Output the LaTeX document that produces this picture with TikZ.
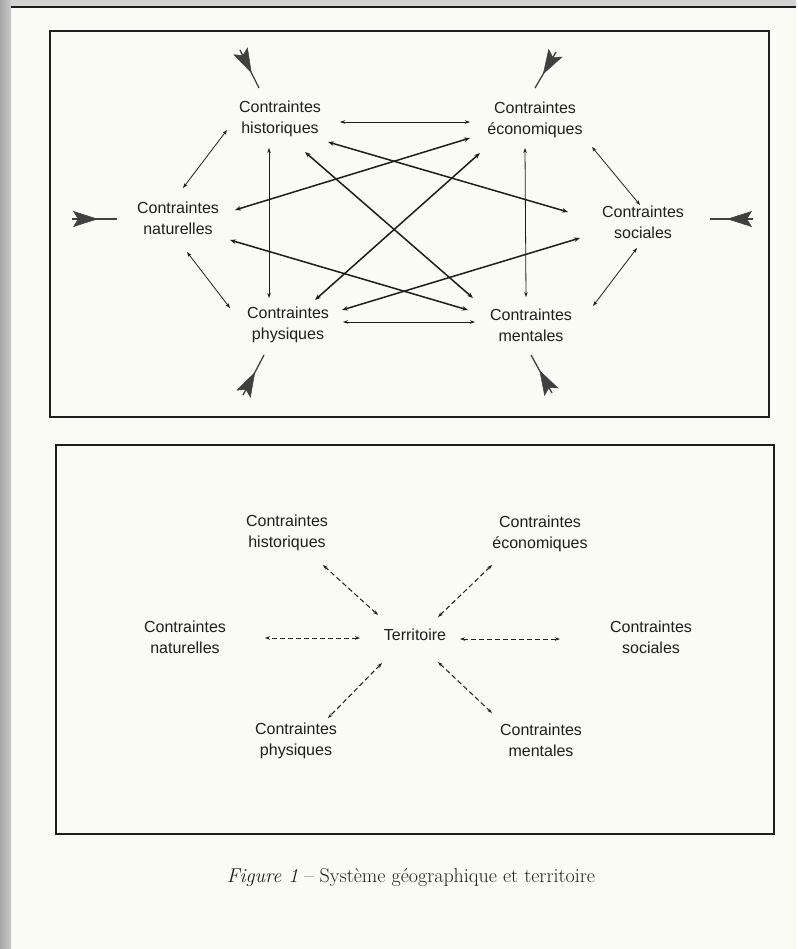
\documentclass[tikz,border=0pt]{standalone}
\usepackage{fontspec}
\setsansfont{Liberation Sans}
\usetikzlibrary{arrows.meta,calc}
\definecolor{ink}{HTML}{1E1E1E}
\definecolor{paper}{HTML}{FBFBF5}
\definecolor{scanedge}{HTML}{A8A8A8}
\begin{document}
\begin{tikzpicture}[x=1pt,y=-1pt,
  lbl/.style={font=\sffamily\fontsize{16}{21}\selectfont, align=center, text=ink, inner sep=0pt},
  frame/.style={draw=ink, line width=1.8pt},
  link/.style={draw=ink, line width=0.8pt, {Stealth[length=5pt,width=3.5pt]}-{Stealth[length=5pt,width=3.5pt]}},
  xlink/.style={draw=ink, line width=1.5pt, {Stealth[length=6pt,width=4.5pt]}-{Stealth[length=6pt,width=4.5pt]}},
  dlink/.style={draw=ink, line width=1pt, dash pattern=on 5pt off 3pt, {Stealth[length=5pt,width=3.5pt]}-{Stealth[length=5pt,width=3.5pt]}},
  feed/.style={draw=ink!85, line width=1.3pt},
  feedhead/.style={draw=ink!85, line width=0.5pt, -{Stealth[length=25pt,width=16pt,inset=5pt]}}
]
% paper and scan edges
\fill[paper] (0,0) rectangle (796,949);
\shade[left color=scanedge, right color=scanedge!60] (0,0) rectangle (11,949);
\fill[scanedge!50] (11,0) rectangle (796,6);
\draw[ink, line width=2pt] (11,7.5) -- (796,7.5);
\useasboundingbox (0,0) rectangle (796,949);

% frames
\draw[frame] (50,31) rectangle (769,417);
\draw[frame] (56,445) rectangle (774,834);

% ---------- upper system ----------
\node[lbl] (H) at (280,119) {Contraintes\\historiques};
\node[lbl] (E) at (535,120) {Contraintes\\économiques};
\node[lbl] (N) at (178,218) {Contraintes\\naturelles};
\node[lbl] (S) at (643,222) {Contraintes\\sociales};
\node[lbl] (P) at (288,325) {Contraintes\\physiques};
\node[lbl] (M) at (531,325) {Contraintes\\mentales};

% outer ring and verticals
\draw[link] ([shift={(60,3)}]H.center) -- ([shift={(-65,2)}]E.center);
\draw[link] ([shift={(-53,11)}]H.center) -- ([shift={(5,-30)}]N.center);
\draw[link] ([shift={(-11,29)}]H.center) -- ([shift={(-19,-27)}]P.center);
\draw[link] ([shift={(-10,28)}]E.center) -- ([shift={(-5,-28)}]M.center);
\draw[link] ([shift={(57,27)}]E.center) -- ([shift={(-3,-17)}]S.center);
\draw[link] ([shift={(-6,26)}]S.center) -- ([shift={(62,-19)}]M.center);
\draw[link] ([shift={(-56,-3)}]M.center) -- ([shift={(55,-3)}]P.center);
\draw[link] ([shift={(-58,-17)}]P.center) -- ([shift={(9,34)}]N.center);

% crossing links
\draw[xlink] ([shift={(57,-8)}]N.center) -- ([shift={(-65,18)}]E.center);
\draw[xlink] ([shift={(48,23)}]H.center) -- ([shift={(-75,-10)}]S.center);
\draw[xlink] ([shift={(25,33)}]H.center) -- ([shift={(-58,-27)}]M.center);
\draw[xlink] ([shift={(52,22)}]N.center) -- ([shift={(-63,-15)}]M.center);
\draw[xlink] ([shift={(-55,33)}]E.center) -- ([shift={(27,-25)}]P.center);
\draw[xlink] ([shift={(-63,16)}]S.center) -- ([shift={(54,-15)}]P.center);

% incoming pressures
\coordinate (inN) at (72,219);
\coordinate (inH) at (240,50);
\coordinate (inE) at (556,52);
\coordinate (inS) at (753,219);
\coordinate (inP) at (243,395);
\coordinate (inM) at (552,393);
\coordinate (toN) at ([shift={(-61,1)}]N.center);
\coordinate (toH) at ([shift={(-21,-31)}]H.center);
\coordinate (toE) at ([shift={(0,-32)}]E.center);
\coordinate (toS) at ([shift={(67,-3)}]S.center);
\coordinate (toP) at ([shift={(-24,30)}]P.center);
\coordinate (toM) at ([shift={(0,30)}]M.center);
\foreach \k in {N,H,E,S,P,M}{
  \draw[feed] (in\k) -- (to\k);
  \draw[feedhead] (in\k) -- ($(in\k)!26pt!(to\k)$);
}

% ---------- territory ----------
\node[lbl] (h) at (287,533) {Contraintes\\historiques};
\node[lbl] (e) at (540,534) {Contraintes\\économiques};
\node[lbl] (n) at (185,637) {Contraintes\\naturelles};
\node[lbl] (s) at (651,637) {Contraintes\\sociales};
\node[lbl] (p) at (296,741) {Contraintes\\physiques};
\node[lbl] (m) at (541,740) {Contraintes\\mentales};
\node[lbl] (T) at (415,635) {Territoire};

\draw[dlink] ([shift={(-55,3)}]T.center) -- ([shift={(80,1)}]n.center);
\draw[dlink] ([shift={(45,4)}]T.center) -- ([shift={(-91,2)}]s.center);
\draw[dlink] ([shift={(-37,-20)}]T.center) -- ([shift={(36,32)}]h.center);
\draw[dlink] ([shift={(23,-18)}]T.center) -- ([shift={(-48,31)}]e.center);
\draw[dlink] ([shift={(-33,28)}]T.center) -- ([shift={(32,-23)}]p.center);
\draw[dlink] ([shift={(23,27)}]T.center) -- ([shift={(-49,-27)}]m.center);

% caption
\node[font=\fontsize{20}{24}\selectfont, text=ink, inner sep=0pt] (cap) at (411,878)
  {\textit{Figure 1} -- Système géographique et territoire};
\end{tikzpicture}
\end{document}
